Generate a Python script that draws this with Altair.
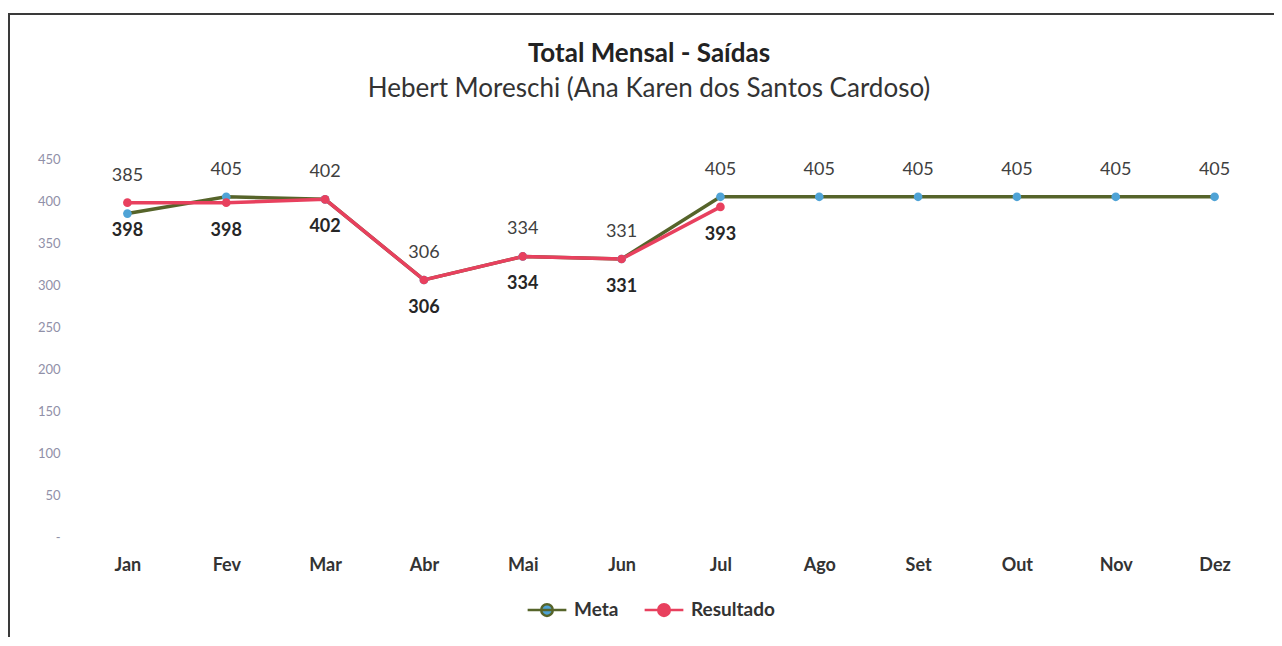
import altair as alt
import pandas as pd

months = ["Jan", "Fev", "Mar", "Abr", "Mai", "Jun", "Jul", "Ago", "Set", "Out", "Nov", "Dez"]
meta = [385, 405, 402, 306, 334, 331, 405, 405, 405, 405, 405, 405]
resultado = [398, 398, 402, 306, 334, 331, 393]
series = ["Meta", "Resultado"]
y_ticks = [0, 50, 100, 150, 200, 250, 300, 350, 400, 450]

rows = []
for m, v in zip(months, meta):
    rows.append({"mes": m, "serie": "Meta", "valor": v})
for m, v in zip(months, resultado):
    rows.append({"mes": m, "serie": "Resultado", "valor": v})
df = pd.DataFrame(rows)

meta_lbl = pd.DataFrame({
    "mes": months,
    "valor": meta,
    "pos": [max(meta[i], resultado[i]) if i < len(resultado) else meta[i] for i in range(len(months))],
})
res_lbl = pd.DataFrame({"mes": months[:len(resultado)], "valor": resultado, "pos": resultado})

FONT = "Lato"
stroke_colors = ["#56642a", "#e8405e"]
fill_colors = ["#4fa3d6", "#e8405e"]

legend_path = "M-1,0L1,0M-0.3,0A0.3,0.3,0,1,0,0.3,0A0.3,0.3,0,1,0,-0.3,0"
leg = alt.Legend(
    title=None, orient="none", legendX=448, legendY=430, direction="horizontal",
    symbolType=legend_path, symbolSize=1500, symbolStrokeWidth=2.5,
    labelFont=FONT, labelFontWeight="bold", labelFontSize=19, labelColor="#333333",
    columnPadding=20, labelOffset=6,
)

x_enc = alt.X(
    "mes:N", sort=months,
    scale=alt.Scale(type="point", padding=0.5),
    axis=alt.Axis(title=None, labelAngle=0, labelFont=FONT, labelFontWeight="bold",
                  labelFontSize=18, labelColor="#333333", labelPadding=19,
                  ticks=False, domain=False, grid=False),
)
y_scale = alt.Scale(domain=[0, 450], nice=False)
y_enc = alt.Y(
    "valor:Q", scale=y_scale,
    axis=alt.Axis(title=None, values=y_ticks, labelExpr="datum.value == 0 ? '-' : datum.label",
                  labelFont=FONT, labelFontSize=13, labelColor="#9090a8", labelPadding=18,
                  ticks=False, domain=False, grid=False),
)

lines = alt.Chart(df).mark_line(strokeWidth=3.5).encode(
    x=x_enc, y=y_enc,
    stroke=alt.Stroke("serie:N", scale=alt.Scale(domain=series, range=stroke_colors), legend=leg),
    detail="serie:N",
)
points = alt.Chart(df).mark_point(filled=True, size=75, opacity=1).encode(
    x=x_enc, y=y_enc,
    fill=alt.Fill("serie:N", scale=alt.Scale(domain=series, range=fill_colors), legend=leg),
)
meta_text = alt.Chart(meta_lbl).mark_text(font=FONT, fontSize=18, color="#404040", dy=-27).encode(
    x=alt.X("mes:N", sort=months), y=alt.Y("pos:Q", scale=y_scale), text="valor:Q",
)
res_text = alt.Chart(res_lbl).mark_text(font=FONT, fontSize=18, fontWeight="bold", color="#262626", dy=28).encode(
    x=alt.X("mes:N", sort=months), y=alt.Y("pos:Q", scale=y_scale), text="valor:Q",
)

frame_df = pd.DataFrame({"k": [0]})
frame_left = alt.Chart(frame_df).mark_rule(color="#3a3a3a", strokeWidth=2).encode(
    x=alt.value(-69), y=alt.value(-146), y2=alt.value(480),
)
frame_top = alt.Chart(frame_df).mark_rule(color="#3a3a3a", strokeWidth=2).encode(
    x=alt.value(-70), x2=alt.value(1220), y=alt.value(-145),
)

chart = alt.layer(frame_left, frame_top, lines, points, meta_text, res_text).properties(
    width=1186, height=378,
    autosize=alt.AutoSizeParams(type="none"),
    padding={"left": 70, "top": 151, "right": 10, "bottom": 100},
    title=alt.Title(
        "Total Mensal - Saídas",
        subtitle="Hebert Moreschi (Ana Karen dos Santos Cardoso)",
        font=FONT, fontSize=26, fontWeight="bold", color="#222222",
        subtitleFont=FONT, subtitleFontSize=26, subtitleColor="#333333",
        anchor="middle", frame="group", offset=-90, dx=-22, subtitlePadding=9,
    ),
).configure(background="white").configure_view(stroke=None)

chart.save("out.html", embed_options={"renderer": "svg", "actions": False})
